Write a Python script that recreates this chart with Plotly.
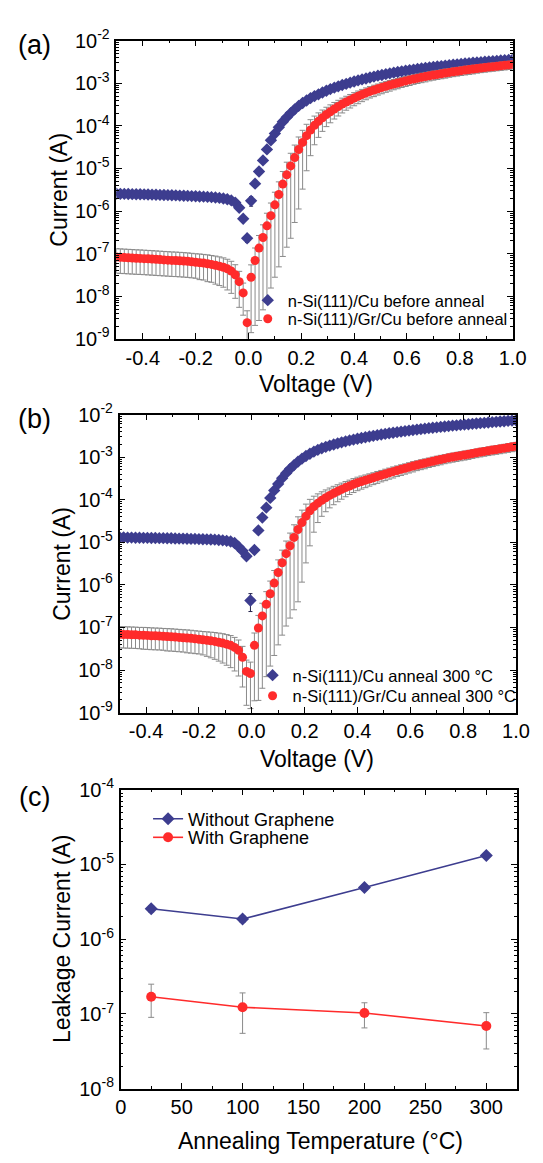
import plotly.graph_objects as go

# ---------------- data ----------------
V = [-0.5, -0.485, -0.47, -0.455, -0.44, -0.425, -0.41, -0.395, -0.38, -0.365,
     -0.35, -0.335, -0.32, -0.305, -0.29, -0.275, -0.26, -0.245, -0.23, -0.215,
     -0.2, -0.185, -0.17, -0.155, -0.14, -0.125, -0.11, -0.095, -0.08, -0.065,
     -0.05, -0.035, -0.02, -0.005, 0.01, 0.025, 0.04, 0.055, 0.07, 0.085,
     0.1, 0.115, 0.13, 0.145, 0.16, 0.175, 0.19, 0.205, 0.22, 0.235,
     0.25, 0.265, 0.28, 0.295, 0.31, 0.325, 0.34, 0.355, 0.37, 0.385,
     0.4, 0.415, 0.43, 0.445, 0.46, 0.475, 0.49, 0.505, 0.52, 0.535,
     0.55, 0.565, 0.58, 0.595, 0.61, 0.625, 0.64, 0.655, 0.67, 0.685,
     0.7, 0.715, 0.73, 0.745, 0.76, 0.775, 0.79, 0.805, 0.82, 0.835,
     0.85, 0.865, 0.88, 0.895, 0.91, 0.925, 0.94, 0.955, 0.97, 0.985, 1.0]

# (a) n-Si(111)/Cu before anneal
cu_before = [2.55e-6, 2.54e-6, 2.53e-6, 2.52e-6, 2.50e-6, 2.49e-6, 2.48e-6, 2.46e-6, 2.45e-6, 2.43e-6,
             2.42e-6, 2.40e-6, 2.38e-6, 2.37e-6, 2.35e-6, 2.33e-6, 2.31e-6, 2.29e-6, 2.27e-6, 2.25e-6,
             2.23e-6, 2.20e-6, 2.18e-6, 2.15e-6, 2.12e-6, 2.08e-6, 2.04e-6, 1.98e-6, 1.90e-6, 1.78e-6,
             1.58e-6, 1.20e-6, 6.6e-7, 2.3e-7, 1.74e-6, 4.4e-6, 8.5e-6, 1.55e-5, 2.8e-5, 4.6e-5,
             6.6e-5, 9.3e-5, 1.25e-4, 1.6e-4, 2.0e-4, 2.45e-4, 2.95e-4, 3.45e-4, 3.95e-4, 4.5e-4,
             5.0e-4, 5.5e-4, 6.1e-4, 6.7e-4, 7.3e-4, 7.9e-4, 8.5e-4, 9.1e-4, 9.7e-4, 1.035e-3,
             1.10e-3, 1.17e-3, 1.235e-3, 1.30e-3, 1.37e-3, 1.44e-3, 1.51e-3, 1.57e-3, 1.64e-3, 1.71e-3,
             1.78e-3, 1.84e-3, 1.91e-3, 1.98e-3, 2.04e-3, 2.10e-3, 2.17e-3, 2.23e-3, 2.29e-3, 2.36e-3,
             2.42e-3, 2.48e-3, 2.54e-3, 2.60e-3, 2.67e-3, 2.73e-3, 2.79e-3, 2.85e-3, 2.91e-3, 2.97e-3,
             3.03e-3, 3.08e-3, 3.14e-3, 3.20e-3, 3.26e-3, 3.31e-3, 3.37e-3, 3.43e-3, 3.48e-3, 3.54e-3, 3.60e-3]
cu_before_err_pct = [7, 7, 7, 7, 7, 7, 7, 7, 7, 7, 7, 7, 7, 7, 7, 7, 7, 7, 7, 7,
                     7, 7, 7, 7, 7, 7, 7, 7, 7, 7, 8, 10, 12, 20, 25, 10, 10, 10, 10, 10,
                     10, 8, 8, 8, 8, 8, 8, 8, 8, 8, 8, 8, 8, 8, 8, 8, 8, 8, 8, 8,
                     8, 8, 8, 8, 8, 8, 8, 8, 8, 8, 8, 8, 8, 8, 8, 8, 8, 8, 8, 8,
                     8, 8, 8, 8, 8, 8, 8, 8, 8, 8, 8, 8, 8, 8, 8, 8, 8, 8, 8, 8, 8]

# (a) n-Si(111)/Gr/Cu before anneal
gr_before = [8.3e-8, 8.2e-8, 8.1e-8, 8.0e-8, 7.9e-8, 7.8e-8, 7.75e-8, 7.65e-8, 7.55e-8, 7.45e-8,
             7.35e-8, 7.25e-8, 7.15e-8, 7.05e-8, 6.95e-8, 6.9e-8, 6.8e-8, 6.7e-8, 6.6e-8, 6.45e-8,
             6.3e-8, 6.15e-8, 6.0e-8, 5.8e-8, 5.6e-8, 5.35e-8, 5.1e-8, 4.8e-8, 4.4e-8, 3.9e-8,
             3.2e-8, 2.2e-8, 1.2e-8, 2.4e-9, 2.8e-8, 6.9e-8, 1.35e-7, 2.4e-7, 4.5e-7, 7.8e-7,
             1.4e-6, 2.45e-6, 4.3e-6, 7.1e-6, 1.15e-5, 1.8e-5, 2.8e-5, 4.1e-5, 5.9e-5, 8.0e-5,
             1.03e-4, 1.28e-4, 1.55e-4, 1.85e-4, 2.15e-4, 2.5e-4, 2.85e-4, 3.25e-4, 3.65e-4, 4.05e-4,
             4.5e-4, 4.95e-4, 5.45e-4, 5.95e-4, 6.45e-4, 6.95e-4, 7.45e-4, 8.0e-4, 8.55e-4, 9.1e-4,
             9.65e-4, 1.02e-3, 1.08e-3, 1.14e-3, 1.20e-3, 1.26e-3, 1.32e-3, 1.38e-3, 1.44e-3, 1.50e-3,
             1.56e-3, 1.62e-3, 1.68e-3, 1.74e-3, 1.80e-3, 1.86e-3, 1.92e-3, 1.98e-3, 2.04e-3, 2.10e-3,
             2.16e-3, 2.22e-3, 2.28e-3, 2.34e-3, 2.40e-3, 2.46e-3, 2.52e-3, 2.58e-3, 2.64e-3, 2.70e-3, 2.76e-3]
gr_before_err_pct = [58, 58, 58, 58, 58, 58, 58, 58, 58, 58, 58, 58, 58, 58, 58, 58, 58, 58, 58, 58,
                     58, 60, 60, 62, 62, 64, 65, 66, 68, 70, 72, 75, 70, 90, 95, 97, 98, 98, 98, 98,
                     98, 98, 98, 98, 98, 97, 96, 92, 85, 75, 65, 58, 52, 48, 45, 42, 40, 38, 36, 35,
                     34, 33, 32, 31, 30, 30, 29, 29, 28, 28, 27, 27, 26, 26, 26, 25, 25, 25, 25, 24,
                     24, 24, 24, 24, 23, 23, 23, 23, 23, 23, 23, 22, 22, 22, 22, 22, 22, 22, 22, 22, 22]

# (b) n-Si(111)/Cu anneal 300 °C
cu_300 = [1.30e-5, 1.30e-5, 1.29e-5, 1.29e-5, 1.28e-5, 1.28e-5, 1.27e-5, 1.27e-5, 1.26e-5, 1.26e-5,
          1.25e-5, 1.25e-5, 1.24e-5, 1.24e-5, 1.23e-5, 1.22e-5, 1.22e-5, 1.21e-5, 1.20e-5, 1.20e-5,
          1.19e-5, 1.18e-5, 1.17e-5, 1.16e-5, 1.15e-5, 1.13e-5, 1.11e-5, 1.08e-5, 1.04e-5, 9.6e-6,
          7.9e-6, 6.3e-6, 4.7e-6, 4.3e-7, 6.6e-6, 1.9e-5, 3.8e-5, 6.5e-5, 1.1e-4, 1.65e-4,
          2.35e-4, 3.2e-4, 4.2e-4, 5.3e-4, 6.5e-4, 7.8e-4, 9.2e-4, 1.06e-3, 1.20e-3, 1.34e-3,
          1.48e-3, 1.61e-3, 1.74e-3, 1.86e-3, 1.98e-3, 2.10e-3, 2.22e-3, 2.34e-3, 2.46e-3, 2.58e-3,
          2.70e-3, 2.81e-3, 2.93e-3, 3.04e-3, 3.16e-3, 3.27e-3, 3.39e-3, 3.50e-3, 3.62e-3, 3.73e-3,
          3.85e-3, 3.96e-3, 4.08e-3, 4.19e-3, 4.31e-3, 4.42e-3, 4.54e-3, 4.65e-3, 4.77e-3, 4.88e-3,
          5.00e-3, 5.11e-3, 5.23e-3, 5.34e-3, 5.46e-3, 5.57e-3, 5.69e-3, 5.80e-3, 5.92e-3, 6.03e-3,
          6.15e-3, 6.26e-3, 6.38e-3, 6.49e-3, 6.61e-3, 6.72e-3, 6.84e-3, 6.95e-3, 7.07e-3, 7.18e-3, 7.30e-3]
cu_300_err_pct = [6, 6, 6, 6, 6, 6, 6, 6, 6, 6, 6, 6, 6, 6, 6, 6, 6, 6, 6, 6,
                  6, 6, 6, 6, 6, 6, 6, 6, 6, 7, 8, 8, 8, 45, 8, 7, 7, 7, 7, 7,
                  6, 6, 6, 6, 6, 6, 6, 6, 6, 6, 6, 6, 6, 6, 6, 6, 6, 6, 6, 6,
                  6, 6, 6, 6, 6, 6, 6, 6, 6, 6, 6, 6, 6, 6, 6, 6, 6, 6, 6, 6,
                  6, 6, 6, 6, 6, 6, 6, 6, 6, 6, 6, 6, 6, 6, 6, 6, 6, 6, 6, 6, 6]

# (b) n-Si(111)/Gr/Cu anneal 300 °C
gr_300 = [6.9e-8, 6.85e-8, 6.8e-8, 6.75e-8, 6.7e-8, 6.6e-8, 6.55e-8, 6.5e-8, 6.4e-8, 6.35e-8,
          6.3e-8, 6.2e-8, 6.1e-8, 6.05e-8, 5.95e-8, 5.85e-8, 5.75e-8, 5.65e-8, 5.55e-8, 5.4e-8,
          5.3e-8, 5.15e-8, 5.0e-8, 4.85e-8, 4.7e-8, 4.5e-8, 4.3e-8, 4.05e-8, 3.8e-8, 3.4e-8,
          2.9e-8, 2.0e-8, 9.3e-9, 8.3e-9, 3.8e-8, 9.7e-8, 1.87e-7, 3.5e-7, 6.2e-7, 1.1e-6,
          1.95e-6, 3.3e-6, 5.4e-6, 8.3e-6, 1.3e-5, 2.0e-5, 2.9e-5, 4.1e-5, 5.5e-5, 6.9e-5,
          8.3e-5, 9.7e-5, 1.11e-4, 1.26e-4, 1.41e-4, 1.57e-4, 1.74e-4, 1.92e-4, 2.1e-4, 2.3e-4,
          2.5e-4, 2.68e-4, 2.86e-4, 3.06e-4, 3.27e-4, 3.5e-4, 3.74e-4, 4.0e-4, 4.27e-4, 4.55e-4,
          4.85e-4, 5.15e-4, 5.45e-4, 5.8e-4, 6.15e-4, 6.5e-4, 6.85e-4, 7.2e-4, 7.6e-4, 8.0e-4,
          8.4e-4, 8.8e-4, 9.2e-4, 9.6e-4, 1.0e-3, 1.04e-3, 1.08e-3, 1.12e-3, 1.16e-3, 1.21e-3,
          1.26e-3, 1.31e-3, 1.36e-3, 1.41e-3, 1.46e-3, 1.51e-3, 1.56e-3, 1.62e-3, 1.68e-3, 1.74e-3, 1.80e-3]
gr_300_err_pct = [52, 52, 52, 52, 52, 52, 53, 53, 53, 53, 53, 53, 54, 54, 54, 54, 54, 55, 55, 55,
                  55, 56, 58, 60, 62, 64, 66, 68, 70, 72, 75, 80, 84, 85, 95, 98, 98, 98, 98, 98,
                  98, 98, 98, 98, 98, 98, 96, 92, 85, 75, 65, 58, 53, 49, 46, 43, 41, 39, 37, 36,
                  35, 34, 33, 32, 31, 31, 30, 30, 29, 29, 28, 28, 27, 27, 27, 26, 26, 26, 25, 25,
                  25, 25, 24, 24, 24, 24, 24, 24, 24, 23, 23, 23, 23, 23, 23, 23, 23, 23, 23, 23, 23]

# (c) leakage current vs annealing temperature
T_anneal = [25, 100, 200, 300]
leak_without = [2.55e-6, 1.86e-6, 4.9e-6, 1.32e-5]
leak_without_err = [2.5e-7, 1.8e-7, 4.0e-7, 9.0e-7]
leak_with = [1.7e-7, 1.23e-7, 1.03e-7, 6.9e-8]
leak_with_err = [8.0e-8, 6.8e-8, 3.8e-8, 3.5e-8]

names_a = ["n-Si(111)/Cu before anneal", "n-Si(111)/Gr/Cu before anneal"]
names_b = ["n-Si(111)/Cu anneal 300 °C", "n-Si(111)/Gr/Cu anneal 300 °C"]
names_c = ["Without Graphene", "With Graphene"]

x_iv_ticks = [-0.4, -0.2, 0.0, 0.2, 0.4, 0.6, 0.8, 1.0]
x_iv_text = ["-0.4", "-0.2", "0.0", "0.2", "0.4", "0.6", "0.8", "1.0"]
x_c_ticks = [0, 50, 100, 150, 200, 250, 300]

# ---------------- style ----------------
W, H = 543, 1163
FONT = "Arial, 'Liberation Sans', sans-serif"
BLUE = "#3D3D8F"
RED = "#FF2B2B"
GREY = "#8A8A8A"
DARK = "#22224A"


def px(x):
    return x / W


def py(y):
    return 1 - y / H


def pct_err(vals, pct):
    return [v * p / 100.0 for v, p in zip(vals, pct)]


def log_ticks(lo, hi):
    vals = [10.0 ** e for e in range(lo, hi + 1)]
    text = ["10<sup>%d</sup>" % e for e in range(lo, hi + 1)]
    minor = [m * 10.0 ** e for e in range(lo, hi) for m in range(2, 10)]
    return vals, text, minor


fig = go.Figure()

panels = [
    ("x", "y", cu_before, cu_before_err_pct, gr_before, gr_before_err_pct, names_a, "legend", "legend2"),
    ("x2", "y2", cu_300, cu_300_err_pct, gr_300, gr_300_err_pct, names_b, "legend3", "legend4"),
]
for xa, ya, cu, cup, gr, grp, nm, lg1, lg2 in panels:
    fig.add_trace(go.Scatter(
        x=V, y=cu, mode="markers", name=nm[0], xaxis=xa, yaxis=ya, legend=lg1,
        marker=dict(symbol="diamond", size=9.5, color=BLUE, line=dict(width=0)),
        error_y=dict(type="data", array=pct_err(cu, cup), color=DARK, thickness=1, width=2)))
    fig.add_trace(go.Scatter(
        x=V, y=gr, mode="markers", name=nm[1], xaxis=xa, yaxis=ya, legend=lg2,
        marker=dict(symbol="circle", size=9, color=RED, line=dict(width=0)),
        error_y=dict(type="data", array=pct_err(gr, grp), color=GREY, thickness=1, width=3)))

fig.add_trace(go.Scatter(
    x=T_anneal, y=leak_without, mode="lines+markers", name=names_c[0], xaxis="x3", yaxis="y3",
    legend="legend5", line=dict(color=BLUE, width=1.6),
    marker=dict(symbol="diamond", size=10, color=BLUE),
    error_y=dict(type="data", array=leak_without_err, color=GREY, thickness=1, width=3)))
fig.add_trace(go.Scatter(
    x=T_anneal, y=leak_with, mode="lines+markers", name=names_c[1], xaxis="x3", yaxis="y3",
    legend="legend6", line=dict(color=RED, width=1.6),
    marker=dict(symbol="circle", size=10, color=RED),
    error_y=dict(type="data", array=leak_with_err, color=GREY, thickness=1, width=3)))

tickfont = dict(family=FONT, size=20, color="black")
axis_common = dict(showline=True, linecolor="black", linewidth=1.5, mirror="allticks",
                   ticks="inside", ticklen=6, tickwidth=1.2, tickcolor="black",
                   showgrid=False, zeroline=False, tickfont=tickfont)

ya_vals, ya_text, ya_minor = log_ticks(-9, -2)
yc_vals, yc_text, yc_minor = log_ticks(-8, -4)

dom = {
    "a": dict(x=[px(114.6), px(526.0)], y=[py(332.0), py(27.3)]),
    "b": dict(x=[px(118.0), px(529.5)], y=[py(714.0), py(409.3)]),
    "c": dict(x=[px(119.1), px(530.3)], y=[py(1098.3), py(792.7)]),
}

def xiv(domain, anchor):
    return dict(axis_common, domain=domain, anchor=anchor, range=[-0.5, 1.0],
                tickmode="array", tickvals=x_iv_ticks, ticktext=x_iv_text,
                minor=dict(ticks="inside", ticklen=3, tickwidth=1, tickcolor="black",
                           tickmode="linear", tick0=-0.5, dtick=0.1))

def ylog(domain, anchor, rng, vals, text, minor):
    return dict(axis_common, domain=domain, anchor=anchor, type="log", range=rng,
                tickmode="array", tickvals=vals, ticktext=text, ticklabelstandoff=1,
                minor=dict(ticks="inside", ticklen=3, tickwidth=1, tickcolor="black",
                           tickmode="array", tickvals=minor))

fig.update_layout(
    width=W, height=H, autosize=False,
    margin=dict(l=0, r=0, t=0, b=0),
    paper_bgcolor="white", plot_bgcolor="white",
    font=dict(family=FONT, color="black"),
    xaxis=xiv(dom["a"]["x"], "y"),
    yaxis=ylog(dom["a"]["y"], "x", [-9, -2], ya_vals, ya_text, ya_minor),
    xaxis2=xiv(dom["b"]["x"], "y2"),
    yaxis2=ylog(dom["b"]["y"], "x2", [-9, -2], ya_vals, ya_text, ya_minor),
    xaxis3=dict(axis_common, domain=dom["c"]["x"], anchor="y3", range=[0, 325],
                tickmode="array", tickvals=x_c_ticks,
                minor=dict(ticks="inside", ticklen=3, tickwidth=1, tickcolor="black",
                           tickmode="linear", tick0=0, dtick=25)),
    yaxis3=ylog(dom["c"]["y"], "x3", [-8, -4], yc_vals, yc_text, yc_minor),
    showlegend=True,
)

def legend_at(x, y, size):
    return dict(x=px(x), y=py(y), xanchor="left", yanchor="middle", bgcolor="rgba(0,0,0,0)",
                borderwidth=0, font=dict(family=FONT, size=size, color="black"),
                itemclick=False, itemdoubleclick=False)

fig.update_layout(
    legend=legend_at(251, 292.7, 16.5),
    legend2=legend_at(251, 311.7, 16.5),
    legend3=legend_at(256, 676.0, 16.5),
    legend4=legend_at(256, 697.0, 16.5),
    legend5=legend_at(147.5, 822.7, 18),
    legend6=legend_at(147.5, 841.7, 18),
)

ann = []
def text_at(s, x, y, size, angle=0):
    ann.append(dict(text=s, x=px(x), y=py(y), xref="paper", yref="paper", showarrow=False,
                    xanchor="center", yanchor="middle", textangle=angle,
                    font=dict(family=FONT, size=size, color="black")))

text_at("(a)", 30, 31.7, 27)
text_at("(b)", 30, 414, 27)
text_at("(c)", 30, 800, 27)
text_at("Voltage (V)", 322, 378.3, 23)
text_at("Voltage (V)", 323, 761.7, 23)
text_at("Annealing Temperature (°C)", 327, 1151.7, 23)
text_at("Current (A)", 55.6, 180, 23, -90)
text_at("Current (A)", 57.4, 561.6, 23, -90)
text_at("Leakage Current (A)", 58, 945.5, 23, -90)
fig.update_layout(annotations=ann)

fig.write_html("out.html")
